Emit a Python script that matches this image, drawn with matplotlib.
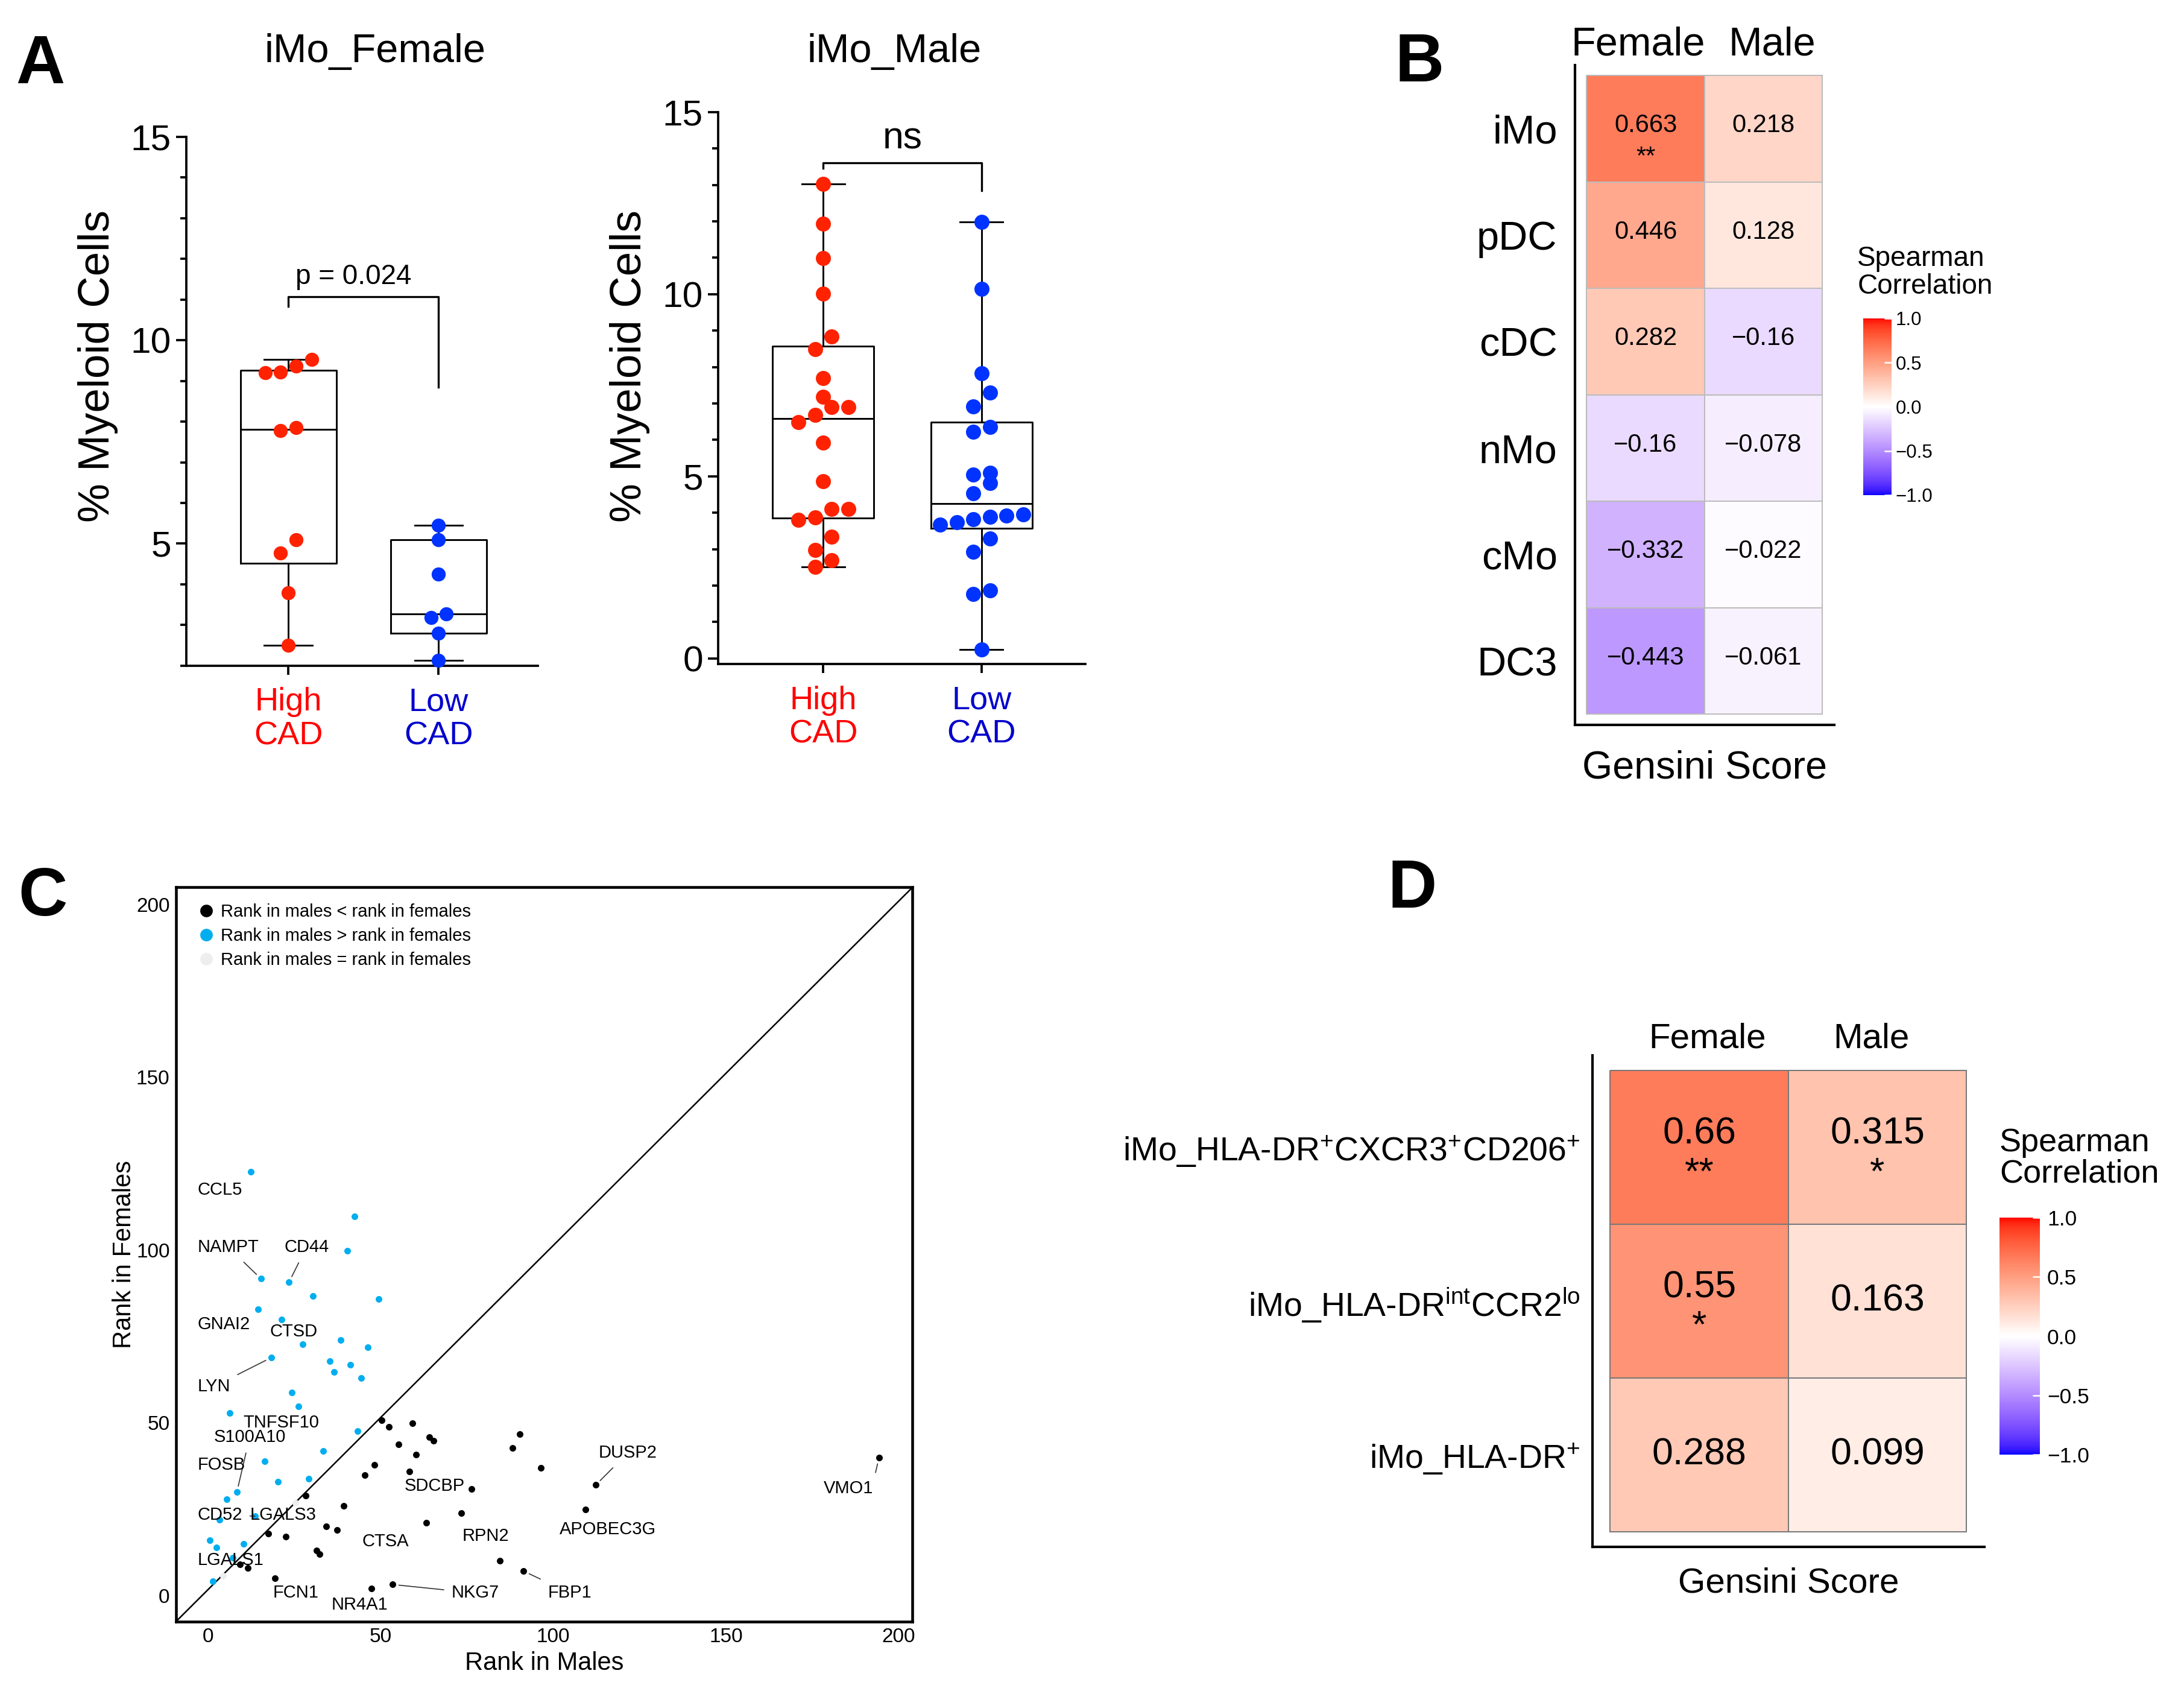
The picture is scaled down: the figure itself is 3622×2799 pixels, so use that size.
import numpy as np
import matplotlib
matplotlib.use("Agg")
import matplotlib.pyplot as plt
from matplotlib import font_manager
from matplotlib.colors import ListedColormap, Normalize
from matplotlib.lines import Line2D
from matplotlib.ticker import MultipleLocator
from matplotlib.transforms import ScaledTranslation

plt.rcParams['font.family'] = ['Liberation Sans', 'DejaVu Sans']
plt.rcParams['mathtext.fontset'] = 'custom'
plt.rcParams['mathtext.rm'] = 'Liberation Sans'
plt.rcParams['mathtext.it'] = 'Liberation Sans:italic'
plt.rcParams['mathtext.bf'] = 'Liberation Sans:bold'

# ---- panel A: % myeloid cells per group ----
groups = ['High\nCAD', 'Low\nCAD']
female_high = [9.53, 9.36, 9.22, 9.20, 7.85, 7.78, 5.10, 4.77, 3.79, 2.50]
female_low = [5.45, 5.10, 4.25, 3.27, 3.19, 2.80, 2.13]
male_high = [13.03, 11.93, 10.99, 10.01, 8.84, 8.49, 7.70, 7.19, 6.90, 6.90, 6.69,
             6.49, 5.93, 4.86, 4.11, 4.11, 3.87, 3.81, 3.34, 2.97, 2.70, 2.52]
male_low = [11.99, 10.14, 7.83, 7.30, 6.92, 6.35, 6.22, 5.09, 5.05, 4.81, 4.54,
            3.95, 3.92, 3.88, 3.82, 3.74, 3.67, 3.29, 2.92, 1.86, 1.77, 0.25]
female_bracket = [10.83, 11.07, 8.84]   # left end, top, right end
male_bracket = [13.46, 13.60, 12.85]
female_stat = 'p = 0.024'
male_stat = 'ns'

# ---- panel B: correlation with Gensini score ----
sexes = ['Female', 'Male']
b_cells = ['iMo', 'pDC', 'cDC', 'nMo', 'cMo', 'DC3']
b_female = [0.663, 0.446, 0.282, -0.16, -0.332, -0.443]
b_male = [0.218, 0.128, -0.16, -0.078, -0.022, -0.061]
b_female_sig = ['**', '', '', '', '', '']
b_male_sig = ['', '', '', '', '', '']

# ---- panel C: gene ranks ----
black_males = [50.4, 52.4, 59.2, 64.2, 65.3, 55.3, 60.3, 90.3, 88.2, 96.4, 48.3, 45.4,
               58.3, 76.4, 112.3, 194.3, 28.4, 39.3, 73.3, 109.3, 63.3, 34.3, 37.4,
               17.5, 22.5, 31.5, 32.4, 9.4, 11.5, 84.5, 91.4, 19.5, 47.4, 53.5]
black_females = [50.7, 48.8, 49.8, 45.8, 44.9, 43.8, 40.8, 46.8, 42.8, 36.9, 37.8, 34.8,
                 35.9, 30.9, 32.0, 39.9, 29.0, 26.0, 23.9, 24.9, 21.0, 20.0, 18.9,
                 17.9, 17.0, 13.1, 12.0, 9.0, 8.0, 10.1, 7.1, 5.1, 2.1, 3.2]
blue_males = [12.5, 42.4, 40.4, 15.4, 23.5, 30.4, 49.4, 14.5, 21.4, 38.4, 27.4, 46.3,
              18.4, 35.4, 41.3, 36.5, 44.4, 24.3, 26.3, 6.4, 43.3, 33.4, 16.4, 29.3,
              20.4, 8.4, 5.5, 13.6, 3.4, 0.5, 2.5, 10.4, 7.3, 1.4]
blue_females = [122.6, 109.7, 99.8, 91.7, 90.7, 86.8, 85.9, 82.9, 79.9, 73.9, 72.8, 71.9,
                68.9, 67.8, 66.8, 64.8, 62.9, 58.8, 54.8, 52.8, 47.7, 41.9, 38.9, 33.9,
                32.9, 29.9, 27.9, 23.0, 21.9, 16.1, 14.0, 15.0, 11.0, 4.1]
gray_males = [25.4, 4.5]
gray_females = [26.8, 5.8]
legend_labels = ['Rank in males < rank in females', 'Rank in males > rank in females',
                 'Rank in males = rank in females']

# gene labels: text position and the point a leader line goes to (None = no line)
ann_genes = ['CCL5', 'NAMPT', 'CD44', 'GNAI2', 'CTSD', 'LYN', 'TNFSF10', 'S100A10', 'FOSB',
             'CD52', 'LGALS3', 'LGALS1', 'FCN1', 'NR4A1', 'NKG7', 'FBP1', 'CTSA', 'RPN2',
             'SDCBP', 'DUSP2', 'APOBEC3G', 'VMO1']
ann_x = [-3.0, -3.0, 22.1, -3.0, 17.9, -3.0, 10.3, 1.7, -3.0, -3.0, 12.2, -3.0, 18.9,
         35.7, 70.5, 98.4, 44.7, 73.6, 56.9, 113.2, 101.8, 178.2]
ann_y = [117.5, 100.9, 100.9, 78.5, 76.5, 60.5, 50.1, 45.9, 37.8, 23.3, 23.3, 10.2, 0.75,
         -2.7, 0.75, 0.75, 15.6, 17.3, 31.8, 41.4, 19.2, 31.0]
ann_target = [None, (15.4, 91.7), (23.5, 90.7), None, None, (18.4, 68.9), None,
              (8.4, 29.9), None, (13.6, 23.0), None, None, None, None, (53.5, 3.2),
              (91.4, 7.1), None, None, None, (112.3, 32.0), None, (194.3, 39.9)]

# ---- panel D: iMo subsets ----
d_cells = [r'iMo_HLA-DR$^{+}$CXCR3$^{+}$CD206$^{+}$',
           r'iMo_HLA-DR$^{\mathrm{int}}$CCR2$^{\mathrm{lo}}$',
           r'iMo_HLA-DR$^{+}$']
d_female = [0.66, 0.55, 0.288]
d_male = [0.315, 0.163, 0.099]
d_female_sig = ['**', '*', '']
d_male_sig = ['*', '', '']

FIG_W, FIG_H = 3622 / 300, 2799 / 300
fig = plt.figure(figsize=(FIG_W, FIG_H), dpi=300)

names = {f.name for f in font_manager.fontManager.ttflist}
narrow = 'Liberation Sans Narrow' if 'Liberation Sans Narrow' in names else None


# blue-white-red ramp interpolated in CIELAB (like ggplot's gradient2)
M = np.array([[0.4124, 0.3576, 0.1805], [0.2126, 0.7152, 0.0722], [0.0193, 0.1192, 0.9505]])
WHITE = np.array([0.95047, 1.0, 1.08883])


def to_lab(rgb):
    c = np.asarray(rgb, float)
    lin = np.where(c <= 0.04045, c / 12.92, ((c + 0.055) / 1.055) ** 2.4)
    xyz = M @ lin / WHITE
    f = np.where(xyz > (6 / 29) ** 3, np.cbrt(xyz), xyz / (3 * (6 / 29) ** 2) + 4 / 29)
    return np.array([116 * f[1] - 16, 500 * (f[0] - f[1]), 200 * (f[1] - f[2])])


def from_lab(lab):
    L, a, b = lab.T
    fy = (L + 16) / 116
    f = np.stack([fy + a / 500, fy, fy - b / 200], 1)
    xyz = np.where(f > 6 / 29, f ** 3, 3 * (6 / 29) ** 2 * (f - 4 / 29)) * WHITE
    lin = np.clip(xyz @ np.linalg.inv(M).T, 0, 1)
    return np.clip(np.where(lin <= 0.0031308, 12.92 * lin, 1.055 * lin ** (1 / 2.4) - 0.055), 0, 1)


def ramp(c0, c1, n):
    t = np.linspace(0, 1, n)[:, None]
    return from_lab(to_lab(c0) * (1 - t) + to_lab(c1) * t)


cmap = ListedColormap(np.vstack([ramp((0, 0, 1), (1, 1, 1), 128), ramp((1, 1, 1), (1, 0, 0), 128)]))


def swarm_offsets(vals, dx, dy):
    order = np.argsort(vals)
    offs = np.zeros(len(vals))
    i = 0
    while i < len(order):
        j = i
        while j + 1 < len(order) and vals[order[j + 1]] - vals[order[i]] < dy:
            j += 1
        n = j - i + 1
        for k in range(n):
            offs[order[i + k]] = (k - (n - 1) / 2) * dx
        i = j + 1
    return offs


def box_panel(rect, data, ylim, yticks, xlim, diam, capw, bracket, stat, stat_xy, stat_size):
    ax = fig.add_axes(rect)
    ax.set_xlim(*xlim)
    ax.set_ylim(*ylim)
    dx = diam / 72 / (rect[2] * FIG_W) * (xlim[1] - xlim[0]) * 1.1
    dy = diam / 72 / (rect[3] * FIG_H) * (ylim[1] - ylim[0])
    pcol = ['#FF2200', '#0033FF']
    line = dict(color='black', lw=0.7)
    for i, vals in enumerate(data):
        v = np.array(vals)
        q1, med, q3 = np.percentile(v, [25, 50, 75], method='weibull')
        ax.bxp([dict(med=med, q1=q1, q3=q3, whislo=v.min(), whishi=v.max(), fliers=[])],
               positions=[i], widths=0.64, capwidths=capw, showfliers=False, manage_ticks=False,
               boxprops=line, whiskerprops=line, capprops=line, medianprops=line)
        ax.scatter(i + swarm_offsets(v, dx, dy), v, s=diam ** 2, color=pcol[i],
                   linewidths=0, zorder=3, clip_on=False)
    ax.plot([0, 0, 1, 1], [bracket[0], bracket[1], bracket[1], bracket[2]], color='black', lw=0.8)
    ax.text(stat_xy[0], stat_xy[1], stat, ha='center', va='baseline', fontsize=stat_size)
    for s in ['top', 'right']:
        ax.spines[s].set_visible(False)
    for s in ['left', 'bottom']:
        ax.spines[s].set_linewidth(0.9)
    ax.set_yticks(yticks)
    ax.yaxis.set_minor_locator(MultipleLocator(1))
    ax.tick_params(axis='y', which='major', length=4, width=0.9, labelsize=14.5, pad=2)
    ax.tick_params(axis='y', which='minor', length=2.5, width=0.9)
    ax.set_xticks([0, 1])
    ax.set_xticklabels(groups)
    ax.tick_params(axis='x', length=3.5, width=0.9, labelsize=13, pad=5)
    for t, c in zip(ax.get_xticklabels(), ['#FF0000', '#0000CC']):
        t.set_color(c)
        t.set_linespacing(1.15)
    ax.set_ylabel('% Myeloid Cells', fontsize=17.5, labelpad=5)
    # label sits at the same figure height in both panels
    ax.yaxis.label.set_y((0.783 - rect[1]) / rect[3])
    return ax


box_panel([0.0853, 0.6056, 0.1609, 0.3134], [female_high, female_low], (2, 15), [5, 10, 15],
          (-0.68, 1.66), 5.6, 0.32, female_bracket, female_stat, (0.434, 11.38), 11)
box_panel([0.3288, 0.6065, 0.1681, 0.3271], [male_high, male_low], (-0.16, 15), [0, 5, 10, 15],
          (-0.665, 1.655), 6.0, 0.27, male_bracket, male_stat, (0.5, 14.0), 15)
fig.text(0.1716, 0.9632, 'iMo_Female', ha='center', va='baseline', fontsize=16)
fig.text(0.4095, 0.9632, 'iMo_Male', ha='center', va='baseline', fontsize=16)


def fmt(v):
    return f'{v:g}'.replace('-', '\u2212')


def heat_panel(rect, rows, female, male, fsig, msig, cfg):
    ax = fig.add_axes(rect)
    vals = np.column_stack([female, male])
    sigs = np.column_stack([fsig, msig])
    ax.pcolormesh(np.arange(3) - 0.5, np.arange(len(rows) + 1) - 0.5, vals, cmap=cmap,
                  vmin=-1, vmax=1, edgecolors=cfg['edge'], linewidth=0.4)
    ax.set_xlim(-0.6, 1.6)
    ax.set_ylim(len(rows) - 0.4, -0.6)
    for r in range(len(rows)):
        for c in range(2):
            s = sigs[r, c]
            ax.text(c, r + (cfg['val_dy'] if s else cfg['val_dy0']), fmt(vals[r, c]),
                    ha='center', va='center', fontsize=cfg['cell_fs'], family=cfg['cell_family'])
            if s:
                ax.text(c, r + cfg['star_dy'], s, ha='center', va='center',
                        fontsize=cfg['cell_fs'], family=cfg['cell_family'])
    ax.set_xticks([0, 1])
    ax.set_xticklabels(sexes)
    ax.set_yticks(range(len(rows)))
    ax.set_yticklabels(rows)
    ax.tick_params(axis='x', top=True, labeltop=True, bottom=False, labelbottom=False,
                   length=0, pad=cfg['col_pad'], labelsize=cfg['col_fs'])
    # column headers sit a little off the cell centres
    for t, dx in zip(ax.get_xticklabels(), cfg['col_shift']):
        t.set_transform(t.get_transform() + ScaledTranslation(dx / 72, 0, fig.dpi_scale_trans))
    ax.tick_params(axis='y', length=0, pad=cfg['row_pad'], labelsize=cfg['row_fs'])
    ax.set_xlabel('Gensini Score', fontsize=cfg['xl_fs'], labelpad=cfg['xl_pad'])
    for s in ['top', 'right']:
        ax.spines[s].set_visible(False)
    for s in ['left', 'bottom']:
        ax.spines[s].set_linewidth(1.0)

    cax = fig.add_axes(cfg['cbar'])
    cb = fig.colorbar(plt.cm.ScalarMappable(norm=Normalize(-1, 1), cmap=cmap), cax=cax)
    cb.outline.set_visible(False)
    cb.set_ticks([-1, -0.5, 0, 0.5, 1])
    cb.set_ticklabels(['\u22121.0', '\u22120.5', '0.0', '0.5', '1.0'])
    cax.tick_params(direction='in', color='white', length=3, width=0.6,
                    labelsize=cfg['cb_fs'], pad=cfg['cb_pad'])
    for t in cax.get_yticklabels():
        t.set_family(cfg['cb_family'])
    fig.text(cfg['cb_title'][0], cfg['cb_title'][1], 'Spearman\nCorrelation', ha='left',
             va='center', fontsize=cfg['cb_title_fs'], linespacing=1.05)
    return ax


heat_panel([0.7211, 0.5706, 0.1187, 0.3909], b_cells, b_female, b_male, b_female_sig, b_male_sig,
           dict(edge='#BBBBBB', val_dy=-0.03, val_dy0=-0.03, star_dy=0.27,
                cell_fs=11.5 if narrow else 10, cell_family=narrow or 'Liberation Sans',
                col_pad=0.5, col_fs=16, col_shift=(-3.0, 3.4), row_pad=7, row_fs=16,
                xl_fs=15.5, xl_pad=10,
                cbar=[0.8531, 0.7067, 0.013, 0.1047], cb_fs=8.5 if narrow else 7.5,
                cb_family=narrow or 'Liberation Sans', cb_pad=1.5,
                cb_title=(0.8504, 0.8385), cb_title_fs=11))
heat_panel([0.7291, 0.0836, 0.1795, 0.2912], d_cells, d_female, d_male, d_female_sig, d_male_sig,
           dict(edge='#777777', val_dy=-0.09, val_dy0=0.0, star_dy=0.17,
                cell_fs=15, cell_family='Liberation Sans',
                col_pad=0, col_fs=14, col_shift=(3.2, -2.4), row_pad=4.8, row_fs=13.3,
                xl_fs=14, xl_pad=8,
                cbar=[0.9155, 0.1381, 0.0184, 0.1406], cb_fs=8.5,
                cb_family='Liberation Sans', cb_pad=3,
                cb_title=(0.9155, 0.3137), cb_title_fs=13))

# ---- panel C ----
ax = fig.add_axes([0.0806, 0.0394, 0.3372, 0.4349])
ax.scatter(gray_males, gray_females, s=7, color='#EEEEEE', linewidths=0, zorder=2)
ax.scatter(blue_males, blue_females, s=7, color='#00AEEF', linewidths=0, zorder=3)
ax.scatter(black_males, black_females, s=7, color='black', linewidths=0, zorder=3)
ax.axline((0, 0), (1, 1), transform=ax.transAxes, color='black', lw=0.6, zorder=1)
ax.set_xlim(-9.2, 204)
ax.set_ylim(-7.5, 205)
for g, x, y, tgt in zip(ann_genes, ann_x, ann_y, ann_target):
    if tgt is None:
        ax.text(x, y, g, ha='left', va='center', fontsize=7, zorder=4)
    else:
        rel = (1.0, 0.8) if g == 'VMO1' else (0.5, 0.5)
        ax.annotate(g, xy=tgt, xytext=(x, y), ha='left', va='center', fontsize=7, zorder=4,
                    arrowprops=dict(arrowstyle='-', lw=0.4, color='#333333', shrinkA=1,
                                    shrinkB=2.5, relpos=rel))
ax.set_xticks([0, 50, 100, 150, 200])
ax.set_yticks([0, 50, 100, 150, 200])
ax.tick_params(length=0, labelsize=8, pad=2.5)
for s in ax.spines.values():
    s.set_linewidth(1.1)
ax.set_xlabel('Rank in Males', fontsize=10, labelpad=2)
ax.set_ylabel('Rank in Females', fontsize=10, labelpad=0)
handles = [Line2D([], [], ls='', marker='o', markersize=5, color=c, markeredgewidth=0)
           for c in ['black', '#00AEEF', '#EEEEEE']]
ax.legend(handles, legend_labels, loc='upper left', bbox_to_anchor=(0.012, 0.997), frameon=False,
          fontsize=7, handletextpad=0.45, handlelength=0.8, labelspacing=0.4, borderaxespad=0.4)

# panel letters
for x, y, s in [(0.0072, 0.9507, 'A'), (0.6386, 0.9518, 'B'), (0.0084, 0.4577, 'C'), (0.6353, 0.4623, 'D')]:
    fig.text(x, y, s, ha='left', va='baseline', fontsize=27, fontweight='bold')

fig.savefig('out.png', dpi=300)
